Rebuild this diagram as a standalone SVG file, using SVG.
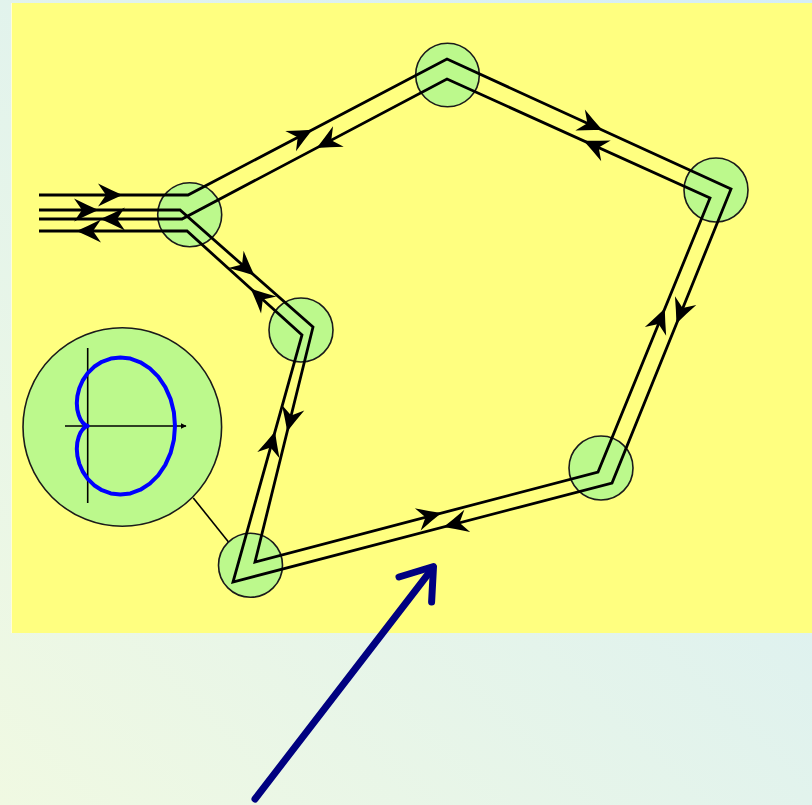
<svg xmlns="http://www.w3.org/2000/svg" xmlns:xlink="http://www.w3.org/1999/xlink" width="812" height="805" viewBox="0 0 812 805">
<defs>
<linearGradient id="bg" x1="0" y1="1" x2="1" y2="0">
<stop offset="0" stop-color="#f0f9e2"/>
<stop offset="1" stop-color="#d4edf7"/>
</linearGradient>
<path id="ah" d="M1.5,0 Q-10,-5 -23,-11.5 L-15,0 L-23,11.5 Q-10,5 1.5,0 Z" fill="#000"/>
<marker id="tri" viewBox="0 0 10 10" refX="9" refY="5" markerWidth="6" markerHeight="6" orient="auto" markerUnits="userSpaceOnUse">
<path d="M0,0 L10,5 L0,10 Z" fill="#000"/>
</marker>
</defs>
<style>
.node{fill:#bcf98c;stroke:#1a1a1a;stroke-width:1.6}
.wire{fill:none;stroke:#000;stroke-width:2.8;stroke-linejoin:miter}
.thin{fill:none;stroke:#000;stroke-width:1.6}
</style>
<rect x="0" y="0" width="812" height="805" fill="url(#bg)"/>
<rect x="11" y="3" width="801" height="630" fill="#ffff80"/>
<line x1="11.5" y1="3" x2="11.5" y2="633" stroke="#ffffff" stroke-width="1" opacity="0.7"/>

<g id="node-polar">
<circle class="node" cx="122.3" cy="427" r="99.3"/>
<line class="thin" x1="65" y1="426" x2="186" y2="426" marker-end="url(#tri)"/>
<line class="thin" x1="87.7" y1="348" x2="87.7" y2="503"/>
<path d="M175,426 L173.9,412.3 L170.6,399.1 L165.3,387.1 L158.2,376.7 L149.8,368.4 L140.4,362.3 L130.4,358.6 L120.4,357.4 L110.8,358.6 L101.9,361.8 L94.1,366.8 L87.7,373.2 L82.7,380.5 L79.3,388.2 L77.4,395.9 L76.8,403.1 L77.3,409.6 L78.7,415.1 L80.5,419.4 L82.6,422.5 L84.6,424.5 L86.3,425.5 L87.7,426 L86.3,426.5 L84.6,427.5 L82.6,429.5 L80.5,432.6 L78.7,436.9 L77.3,442.4 L76.8,448.9 L77.4,456.1 L79.3,463.8 L82.7,471.5 L87.7,478.8 L94.1,485.2 L101.9,490.2 L110.8,493.4 L120.4,494.6 L130.4,493.4 L140.4,489.7 L149.8,483.6 L158.2,475.3 L165.3,464.9 L170.6,452.9 L173.9,439.7 Z" fill="none" stroke="#0000ff" stroke-width="4" stroke-linejoin="round"/>
</g>
<g id="node-1"><circle class="node" cx="189.7" cy="214.7" r="32"/></g>
<g id="node-2"><circle class="node" cx="447.5" cy="75" r="31.8"/></g>
<g id="node-3"><circle class="node" cx="716" cy="190" r="32"/></g>
<g id="node-4"><circle class="node" cx="601" cy="468" r="32"/></g>
<g id="node-5"><circle class="node" cx="250.5" cy="565.3" r="32"/></g>
<g id="node-6"><circle class="node" cx="301" cy="330" r="32"/></g>

<g id="connectors">
<line class="thin" x1="193.3" y1="498" x2="228.3" y2="541.7"/>
<polyline class="wire" points="39,195 188,195 447,59 731,189 612,483 233,582 302,335 187,231 39,231"/>
<polyline class="wire" points="39,210 180,210 313,327 255,562 598,472 710,198 447,79 182,219 39,219"/>
<use xlink:href="#ah" transform="translate(121,195)"/>
<use xlink:href="#ah" transform="translate(97,210)"/>
<use xlink:href="#ah" transform="translate(102,219) rotate(180)"/>
<use xlink:href="#ah" transform="translate(78,231) rotate(180)"/>
<use xlink:href="#ah" transform="translate(311,130.4) rotate(-27.7)"/>
<use xlink:href="#ah" transform="translate(318,147.2) rotate(152.3)"/>
<use xlink:href="#ah" transform="translate(601,129.5) rotate(24.6)"/>
<use xlink:href="#ah" transform="translate(585,141.4) rotate(204.3)"/>
<use xlink:href="#ah" transform="translate(677,322) rotate(112)"/>
<use xlink:href="#ah" transform="translate(664.2,310) rotate(-67.8)"/>
<use xlink:href="#ah" transform="translate(440,513.5) rotate(-14.7)"/>
<use xlink:href="#ah" transform="translate(445,526.6) rotate(165.4)"/>
<use xlink:href="#ah" transform="translate(287.6,430) rotate(103.9)"/>
<use xlink:href="#ah" transform="translate(274.6,433) rotate(-74.4)"/>
<use xlink:href="#ah" transform="translate(253.3,274.5) rotate(41.3)"/>
<use xlink:href="#ah" transform="translate(251.7,289.5) rotate(-137.9)"/>
</g>

<g id="pointer">
<line x1="255" y1="799" x2="432" y2="569" stroke="#000080" stroke-width="7" stroke-linecap="round"/>
<polyline points="399,577 433.5,566.5 431.6,602" fill="none" stroke="#000080" stroke-width="7" stroke-linecap="round" stroke-linejoin="round"/>
</g>
</svg>
